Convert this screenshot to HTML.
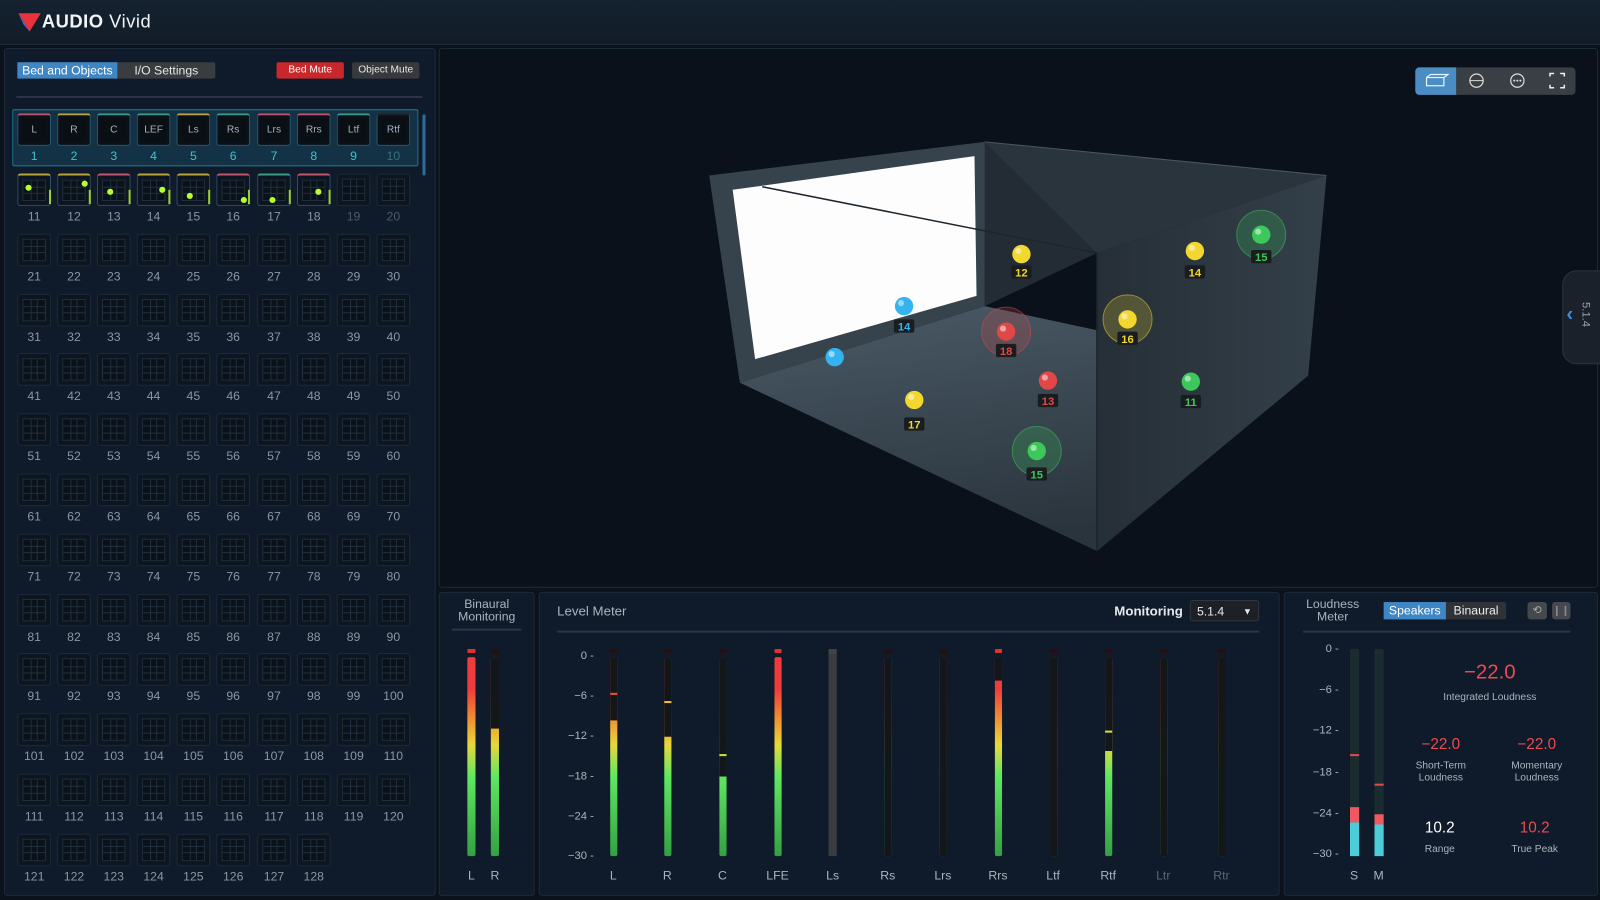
<!DOCTYPE html>
<html><head><meta charset="utf-8"><style>
*{margin:0;padding:0;box-sizing:border-box}
html,body{width:1600px;height:900px;overflow:hidden;background:#0a1018;font-family:"Liberation Sans",sans-serif}
#w{position:absolute;left:0;top:0;width:1568px;height:882px;transform:scale(1.020408);transform-origin:0 0;background:#0b121b}
.a{position:absolute}
.panel{position:absolute;background:#0f1b2a;border:1px solid #1d2a38;border-radius:3px}
.cell{position:absolute;width:33px;height:32px;border:1px solid #2a3d52;border-radius:3px;background:#0c1520}
.cell .in{position:absolute;left:4px;top:4px;right:4px;bottom:4px;border:1px solid #1f2e3d;background:#0a1119;
background-image:linear-gradient(#1f2e3d,#1f2e3d),linear-gradient(#1f2e3d,#1f2e3d),linear-gradient(#1f2e3d,#1f2e3d),linear-gradient(#1f2e3d,#1f2e3d);
background-size:1px 100%,1px 100%,100% 1px,100% 1px;background-position:33% 0,66% 0,0 33%,0 66%;background-repeat:no-repeat}
.num{position:absolute;width:33px;text-align:center;font-size:12px;color:#8a96a3}
.dot{position:absolute;width:6px;height:6px;border-radius:50%;background:#b6ff2e}
.lab{position:absolute;font-size:12px;color:#aab4be;text-align:center}
.track{position:absolute;width:7px;background:linear-gradient(to top,#34a043 0%,#5ee860 40%,#e8d83a 56%,#f08a30 70%,#ee3b3b 84%,#ee3b3b 100%);border-radius:2px}
.cov{position:absolute;left:0;top:0;width:100%;background:#141719}
.pk{position:absolute;width:7px;height:4px;background:#2a0a0a;border-radius:1px}
</style></head><body><div id="w">
<div class="a" style="left:0;top:0;width:1568px;height:44px;background:linear-gradient(#15222f,#111c28);border-bottom:1px solid #1f2c3a"></div>
<svg class="a" style="left:17px;top:12px" width="24" height="20"><polygon points="1,1 23,1 12,19" fill="#e8323c"/><polygon points="1,1 12,19 6,12" fill="#2f6fe0"/></svg>
<div class="a" style="left:41px;top:11px;font-size:18px;color:#f2f4f6;letter-spacing:0.5px"><b>AUDIO</b> Vivid</div>

<div class="panel" style="left:4px;top:47px;width:423px;height:831px"></div>
<div class="a" style="left:17px;top:61px;width:194px;height:16px;background:#3a3d40;border-radius:2px"></div>
<div class="a" style="left:17px;top:61px;width:98px;height:16px;background:#3f86c4;color:#fff;font-size:12px;line-height:16px;text-align:center">Bed and Objects</div>
<div class="a" style="left:115px;top:61px;width:96px;height:16px;color:#e6e6e6;font-size:12px;line-height:16px;text-align:center">I/O Settings</div>
<div class="a" style="left:271px;top:61px;width:66px;height:16px;background:#c8282b;color:#fff;font-size:10px;line-height:16px;text-align:center;border-radius:2px">Bed Mute</div>
<div class="a" style="left:345px;top:61px;width:66px;height:16px;background:#37393c;color:#e6e6e6;font-size:10px;line-height:16px;text-align:center;border-radius:2px">Object Mute</div>
<div class="a" style="left:16px;top:94px;width:398px;height:2px;background:#2a3644"></div>
<div class="a" style="left:12px;top:107px;width:398px;height:56px;background:#143245;border:1px solid #1f7086;border-radius:2px"></div>
<div class="a" style="left:414px;top:112px;width:3px;height:60px;background:#2f6a9a;border-radius:2px"></div>
<div id="grid"></div>

<div class="panel" style="left:430px;top:47px;width:1136px;height:529px;background:#0b111a"></div>
<svg class="a" style="left:430px;top:47px" width="1136" height="529" viewBox="430 47 1136 529">
<defs>
<linearGradient id="fl" x1="0" y1="0" x2="0.3" y2="1"><stop offset="0" stop-color="#4a5a66"/><stop offset="1" stop-color="#2a343d"/></linearGradient>
<linearGradient id="rw" x1="0" y1="0" x2="1" y2="0"><stop offset="0" stop-color="#262f37"/><stop offset="1" stop-color="#333f49"/></linearGradient>
</defs>
<polygon points="965,139 1300,172 1075,248 747,183" fill="#2a343d"/>
<polygon points="725,375 965,300 1282,368 1075,540" fill="url(#fl)"/>
<polygon points="1075,248 1300,172 1282,368 1075,540" fill="url(#rw)"/>
<polygon points="965,139 965,300 1075,248" fill="#232c34"/>
<polygon points="695,172 965,139 965,300 725,375" fill="#36434d"/>
<polygon points="718,186 955,153 957,290 740,352" fill="#fdfdfd"/>
<line x1="747" y1="183" x2="1075" y2="248" stroke="#1c242c" stroke-width="1.5"/>
<line x1="1075" y1="248" x2="1075" y2="540" stroke="#1c242c" stroke-width="1.5"/>
<line x1="965" y1="139" x2="1300" y2="172" stroke="#4a5660" stroke-width="1"/>
<g id="sph"></g>
</svg>
<div class="a" style="left:1387px;top:66px;width:157px;height:27px;background:#3a3f45;border-radius:4px"></div>
<div class="a" style="left:1387px;top:66px;width:40px;height:27px;background:#4a8cc4;border-radius:4px 0 0 4px"></div>
<svg class="a" style="left:1387px;top:66px" width="157" height="27">
<rect x="11" y="10" width="17" height="8" fill="none" stroke="#e8f2fa" stroke-width="1.2"/><polyline points="11,10 15,7 32,7 28,10 M32,7 32,15 28,18" fill="none" stroke="#e8f2fa" stroke-width="1.2"/>
<circle cx="60" cy="13" r="6.5" fill="none" stroke="#ddd" stroke-width="1.2"/><line x1="54" y1="13" x2="66" y2="13" stroke="#ddd"/>
<circle cx="100" cy="13" r="6.5" fill="none" stroke="#ddd" stroke-width="1.2"/><circle cx="97" cy="13" r="1" fill="#ddd"/><circle cx="100" cy="13" r="1" fill="#ddd"/><circle cx="103" cy="13" r="1" fill="#ddd"/>
<path d="M132 9V6h4M142 6h4v3M146 17v3h-4M136 20h-4v-3" fill="none" stroke="#eee" stroke-width="1.5"/>
</svg>
<div class="a" style="left:1531px;top:265px;width:40px;height:92px;background:#1a212b;border-radius:14px 0 0 14px;border:1px solid #2a333e"></div>
<div class="a" style="left:1535px;top:297px;color:#3d8ee0;font-size:20px;font-weight:bold">‹</div>
<div class="a" style="top:296px;color:#99a3ad;font-size:11px;transform:rotate(90deg);transform-origin:left top;left:1560px">5.1.4</div>

<div class="panel" style="left:430px;top:580px;width:94px;height:298px"></div>
<div class="a" style="left:436px;top:586px;width:82px;text-align:center;font-size:12px;line-height:12px;color:#aab4be">Binaural<br>Monitoring</div>
<div class="a" style="left:443px;top:616px;width:68px;height:2px;background:#2a3644"></div>
<div class="panel" style="left:528px;top:580px;width:726px;height:298px"></div>
<div class="a" style="left:546px;top:591px;font-size:13px;color:#aab4be">Level Meter</div>
<div class="a" style="left:1092px;top:591px;font-size:13px;color:#e6e9ec;font-weight:bold">Monitoring</div>
<div class="a" style="left:1166px;top:588px;width:68px;height:21px;background:#1d2126;border:1px solid #30363d;border-radius:3px;color:#e6e9ec;font-size:12px;line-height:20px;padding-left:6px">5.1.4<span style="position:absolute;right:6px;font-size:9px">▼</span></div>
<div class="a" style="left:546px;top:618px;width:688px;height:2px;background:#2a3644"></div>
<div class="panel" style="left:1258px;top:580px;width:308px;height:298px"></div>
<div class="a" style="left:1270px;top:586px;width:72px;text-align:center;font-size:12px;line-height:12px;color:#aab4be">Loudness<br>Meter</div>
<div class="a" style="left:1356px;top:590px;width:120px;height:17px;background:#2f3236;border-radius:2px"></div>
<div class="a" style="left:1356px;top:590px;width:61px;height:17px;background:#3f86c4;color:#fff;font-size:12px;line-height:17px;text-align:center">Speakers</div>
<div class="a" style="left:1417px;top:590px;width:59px;height:17px;color:#eee;font-size:12px;line-height:17px;text-align:center">Binaural</div>
<div class="a" style="left:1497px;top:590px;width:19px;height:17px;background:#45494e;border-radius:3px;color:#aaa;font-size:11px;text-align:center;line-height:17px">⟲</div>
<div class="a" style="left:1521px;top:590px;width:18px;height:17px;background:#45494e;border-radius:3px;color:#888;font-size:10px;text-align:center;line-height:17px">❙❙</div>
<div class="a" style="left:1277px;top:618px;width:262px;height:2px;background:#2a3644"></div>
<div id="lm"></div>
</div>
<script>
var g='',i,r,c;
var bed=['L','R','C','LEF','Ls','Rs','Lrs','Rrs','Ltf','Rtf'];
var cols=[34,73,112,151,190,229,269,308,347,386];
var topc=['#c0546c','#b8a43a','#3a9a86','#3a9a86','#b8a43a','#3a9a86','#c0546c','#c0546c','#3a9a86','#222'];
for(i=0;i<10;i++){var x=cols[i]-17;
g+='<div class="cell" style="left:'+x+'px;top:111px;background:#0b1118;border-color:#2b5870;border-top:2px solid '+topc[i]+'"><div style="position:absolute;left:3px;top:3px;right:3px;bottom:3px;background:#0a0f14;color:#9fb0c0;font-size:10px;text-align:center;line-height:24px">'+bed[i]+'</div></div>';
g+='<div class="num" style="left:'+x+'px;top:146px;font-size:12px;color:'+(i<9?'#3fc2c8':'#3a6f80')+'">'+(i+1)+'</div>';}
var dots={11:[2,4],12:[18,0],13:[4,8],14:[16,6],15:[4,12],16:[18,16],17:[6,16],18:[12,8]};
var tc2=['#b8a43a','#b8a43a','#c0546c','#b8a43a','#b8a43a','#c0546c','#3a9a86','#c0546c'];
for(r=0;r<12;r++)for(c=0;c<10;c++){var n=11+r*10+c;if(n>128)break;var x=cols[c]-17,y=170+r*58.8;
var act=dots[n];
g+='<div class="cell" style="left:'+x+'px;top:'+y+'px;'+(act?'border-color:#2f4f6a;border-top:2px solid '+tc2[n-11]:'border-color:#1c2a38')+'"><div class="in"></div>'+(act?'<div class="dot" style="left:'+(5+act[0])+'px;top:'+(5+act[1])+'px"></div><div style="position:absolute;right:-1px;top:14px;width:2px;height:14px;background:#9bd030"></div>':'')+'</div>';
g+='<div class="num" style="left:'+x+'px;top:'+(y+35)+'px;color:'+(n<19||n>20?'#8a96a3':'#4e5a66')+'">'+n+'</div>';}
document.getElementById('grid').outerHTML=g;
var S=[[1001,249,'#f2d72e',12,267,0],[1171,246,'#f2d72e',14,267,0],[1236,230,'#3cc85a',15,252,1],[886,300,'#33b4f0',14,320,0],[818,350,'#33b4f0',0,0,0],[986,325,'#e04848',18,344,1],[1105,313,'#f2d72e',16,332,1],[1027,373,'#e04848',13,393,0],[1167,374,'#3cc85a',11,394,0],[896,392,'#f2d72e',17,416,0],[1016,442,'#3cc85a',15,465,1]];
var s='';S.forEach(function(p){
if(p[5])s+='<circle cx="'+p[0]+'" cy="'+p[1]+'" r="24" fill="'+p[2]+'" fill-opacity="0.22" stroke="'+p[2]+'" stroke-opacity="0.5"/>';
s+='<circle cx="'+p[0]+'" cy="'+p[1]+'" r="9" fill="'+p[2]+'"/><circle cx="'+(p[0]-3)+'" cy="'+(p[1]-3)+'" r="3" fill="#fff" fill-opacity="0.5"/>';
if(p[3])s+='<rect x="'+(p[0]-10)+'" y="'+(p[4]-7)+'" width="20" height="13" rx="2" fill="#1a1d20"/><text x="'+p[0]+'" y="'+(p[4]+4)+'" font-size="11" font-family="Liberation Sans" font-weight="bold" text-anchor="middle" fill="'+p[2]+'">'+p[3]+'</text>';});
document.getElementById('sph').innerHTML=s;
var h='';
function bar(x,top,peak,pcol,pk,full,w){w=w||7;var H=195;
h+='<div class="track" style="left:'+(x-w/2)+'px;top:644px;height:'+H+'px;width:'+w+'px"><div class="cov" style="height:'+(top-644)+'px"></div>'+(peak?'<div style="position:absolute;left:0;top:'+(peak-644)+'px;width:100%;height:2px;background:'+pcol+'"></div>':'')+'</div>';
h+='<div class="pk" style="left:'+(x-w/2)+'px;top:636px;width:'+w+'px;background:'+(pk?'#e03030':'#2a0d0d')+'"></div>';}
bar(462,644,0,0,1,1,8);bar(485,714,0,0,0,0,8);
h+='<div class="lab" style="left:452px;top:851px;width:20px">L</div><div class="lab" style="left:475px;top:851px;width:20px">R</div>';
var ch=[['L',601,706,679,'#f05030'],['R',654,722,687,'#f0c030'],['C',708,761,739,'#c8e040'],['LFE',762,644,0,0,1],['Ls',816,0],['Rs',870,839],['Lrs',924,839],['Rrs',978,667,0,0,1],['Ltf',1032,839],['Rtf',1086,736,716,'#d8e040'],['Ltr',1140,839],['Rtr',1197,839]];
ch.forEach(function(q,k){
if(q[0]=='Ls'){h+='<div class="a" style="left:812px;top:641px;width:8px;height:198px;background:#3a3d40"></div><div class="a" style="left:812px;top:636px;width:8px;height:5px;background:#444"></div>';}
else bar(q[1],q[2],q[3],q[4],q[5]);
h+='<div class="lab" style="left:'+(q[1]-20)+'px;top:851px;width:40px;color:'+(k>9?'#5c6772':'#aab4be')+'">'+q[0]+'</div>';});
['0','-6','-12','-18','-24','-30'].forEach(function(t,k){h+='<div class="lab" style="left:546px;top:'+(637+k*39.2)+'px;width:36px;text-align:right;font-size:11px">'+t.replace('-','−')+' -</div>';
h+='<div class="lab" style="left:1276px;top:'+(630+k*40.2)+'px;width:36px;text-align:right;font-size:11px">'+t.replace('-','−')+' -</div>';});
function lb(x,cy,mk){h+='<div class="a" style="left:'+x+'px;top:636px;width:9px;height:203px;background:#1a2c30;border-radius:2px"></div>';
h+='<div class="a" style="left:'+x+'px;top:'+mk+'px;width:9px;height:2px;background:#e0484a"></div>';
h+='<div class="a" style="left:'+x+'px;top:'+cy[0]+'px;width:9px;height:'+(cy[1]-cy[0])+'px;background:#ee5a5e"></div><div class="a" style="left:'+x+'px;top:'+cy[1]+'px;width:9px;height:'+(839-cy[1])+'px;background:#4ccbd8"></div>';}
lb(1323,[791,806],739);lb(1347,[798,808],768);
h+='<div class="lab" style="left:1317px;top:851px;width:20px">S</div><div class="lab" style="left:1341px;top:851px;width:20px">M</div>';
h+='<div class="a" style="left:1400px;top:648px;width:120px;text-align:center;color:#ee4a4e;font-size:20px">−22.0</div><div class="lab" style="left:1400px;top:678px;width:120px;font-size:10px">Integrated Loudness</div>';
h+='<div class="a" style="left:1372px;top:721px;width:80px;text-align:center;color:#ee4a4e;font-size:15px">−22.0</div><div class="lab" style="left:1372px;top:745px;width:80px;font-size:10px;line-height:12px">Short-Term<br>Loudness</div>';
h+='<div class="a" style="left:1466px;top:721px;width:80px;text-align:center;color:#ee4a4e;font-size:15px">−22.0</div><div class="lab" style="left:1466px;top:745px;width:80px;font-size:10px;line-height:12px">Momentary<br>Loudness</div>';
h+='<div class="a" style="left:1371px;top:803px;width:80px;text-align:center;color:#fff;font-size:15px">10.2</div><div class="lab" style="left:1371px;top:827px;width:80px;font-size:10px">Range</div>';
h+='<div class="a" style="left:1464px;top:803px;width:80px;text-align:center;color:#ee4a4e;font-size:15px">10.2</div><div class="lab" style="left:1464px;top:827px;width:80px;font-size:10px">True Peak</div>';
document.getElementById('lm').outerHTML=h;
</script>
</body></html>
